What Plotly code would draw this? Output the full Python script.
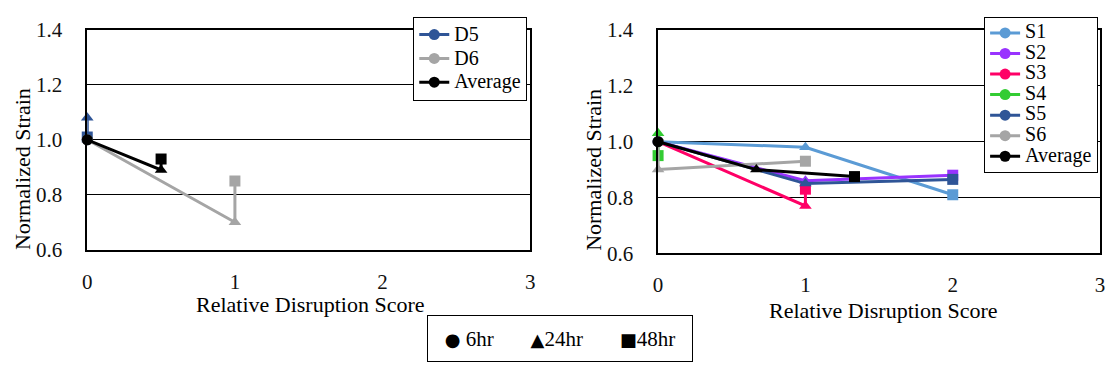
import plotly.graph_objects as go

# ---------------- data ----------------
# point order in each series: 6hr (circle), 24hr (triangle), 48hr (square)
time_symbols = ["circle", "triangle-up", "square"]
time_labels = ["6hr", "24hr", "48hr"]

# left panel (D series)
d_names = ["D5", "D6", "Average"]
d_x = [[0, 0, 0], [0, 1, 1], [0, 0.5, 0.5]]
d_y = [[1.00, 1.08, 1.01], [1.00, 0.70, 0.85], [1.00, 0.89, 0.93]]
d_colors = ["#2F5597", "#A5A5A5", "#000000"]

# right panel (S series)
s_names = ["S1", "S2", "S3", "S4", "S5", "S6", "Average"]
s_x = [[0, 1, 2], [0, 1, 2], [0, 1, 1], [0, 0, 0], [0, 1, 2], [0, 0, 1], [0, 0.667, 1.333]]
s_y = [[1.00, 0.98, 0.81], [1.00, 0.86, 0.88], [1.00, 0.77, 0.83], [1.00, 1.03, 0.95],
       [1.00, 0.85, 0.865], [1.00, 0.90, 0.93], [1.00, 0.90, 0.875]]
s_colors = ["#5B9BD5", "#9933FF", "#FF0066", "#33CC33", "#2F5597", "#A5A5A5", "#000000"]

x_ticks = [0, 1, 2, 3]
y_ticks = [0.6, 0.8, 1.0, 1.2, 1.4]

# ---------------- figure ----------------
W, H = 1114, 375
FONT = "Liberation Serif, Times New Roman, Tinos, Nimbus Roman, serif"
fig = go.Figure()

def add_series(names, xs, ys, colors, xa, ya, legend, txt):
    for n, x, y, c in zip(names, xs, ys, colors):
        fig.add_trace(go.Scatter(
            x=x, y=y, name=f'<span style="font-size:{txt}px">{n}</span>',
            mode="lines+markers", xaxis=xa, yaxis=ya, legend=legend,
            line=dict(color=c, width=3),
            marker=dict(symbol=time_symbols, size=11, color=c),
            cliponaxis=False, hoverinfo="x+y+name"))

add_series(d_names, d_x, d_y, d_colors, "x", "y", "legend", 20)
add_series(s_names, s_x, s_y, s_colors, "x2", "y2", "legend2", 20)

def px_x(p):
    return p / W

def px_y(p):
    return (H - p) / H

axis_common = dict(showline=True, mirror=True, linecolor="black", linewidth=1.5,
                   zeroline=False, ticks="",
                   tickfont=dict(family=FONT, size=21, color="#111"))
xcommon = dict(axis_common, range=[0, 3], tickvals=x_ticks, showgrid=False,
               ticklabelstandoff=12)
ycommon = dict(axis_common, range=[0.6, 1.4], tickvals=y_ticks, tickformat=".1f",
               showgrid=True, gridcolor="black", gridwidth=1.2, ticklabelstandoff=19)

fig.update_layout(
    width=W, height=H, autosize=False,
    margin=dict(l=0, r=0, t=0, b=0),
    paper_bgcolor="white", plot_bgcolor="white",
    font=dict(family=FONT, color="black"),
    xaxis=dict(xcommon, domain=[px_x(83), px_x(530)], anchor="y"),
    yaxis=dict(ycommon, domain=[px_y(254), px_y(19)], anchor="x"),
    xaxis2=dict(xcommon, domain=[px_x(659), px_x(1105)], anchor="y2"),
    yaxis2=dict(ycommon, domain=[px_y(258), px_y(19)], anchor="x2"),
    legend=dict(x=px_x(527), xanchor="right", y=px_y(5), yanchor="top",
                bordercolor="black", borderwidth=1, bgcolor="white",
                font=dict(family=FONT, size=16, color="black")),
    legend2=dict(x=px_x(1103), xanchor="right", y=px_y(5), yanchor="top",
                 bordercolor="black", borderwidth=1, bgcolor="white",
                 font=dict(family=FONT, size=13.5, color="black")),
    showlegend=True,
)

ann_font = dict(family=FONT, size=22, color="black")
common_ann = dict(xref="paper", yref="paper", showarrow=False, font=ann_font,
                  xanchor="center", yanchor="middle")
fig.add_annotation(text="Normalized Strain", x=px_x(17), y=px_y(168), textangle=-90, **common_ann)
fig.add_annotation(text="Normalized Strain", x=px_x(594), y=px_y(169), textangle=-90, **common_ann)
fig.add_annotation(text="Relative Disruption Score", x=px_x(308), y=px_y(312), **common_ann)
fig.add_annotation(text="Relative Disruption Score", x=px_x(886), y=px_y(319), **common_ann)

sym_chars = {"circle": "\u25CF", "triangle-up": "\u25B2", "square": "\u25A0"}
gap = "\u00a0" * 7
key_text = gap.join(
    f'<span style="font-family:DejaVu Sans;font-size:18px">{sym_chars[s]}</span>{"\u00a0" if l == "6hr" else ""}{l}'
    for s, l in zip(time_symbols, time_labels))
fig.add_annotation(text=key_text, x=px_x(560), y=px_y(348.5), xref="paper", yref="paper",
                   xanchor="center", yanchor="middle",
                   showarrow=False, width=264, height=45, borderwidth=1, bordercolor="black",
                   borderpad=0, align="center", valign="middle",
                   font=dict(family=FONT, size=21, color="black"))

fig.write_html("out.html")
